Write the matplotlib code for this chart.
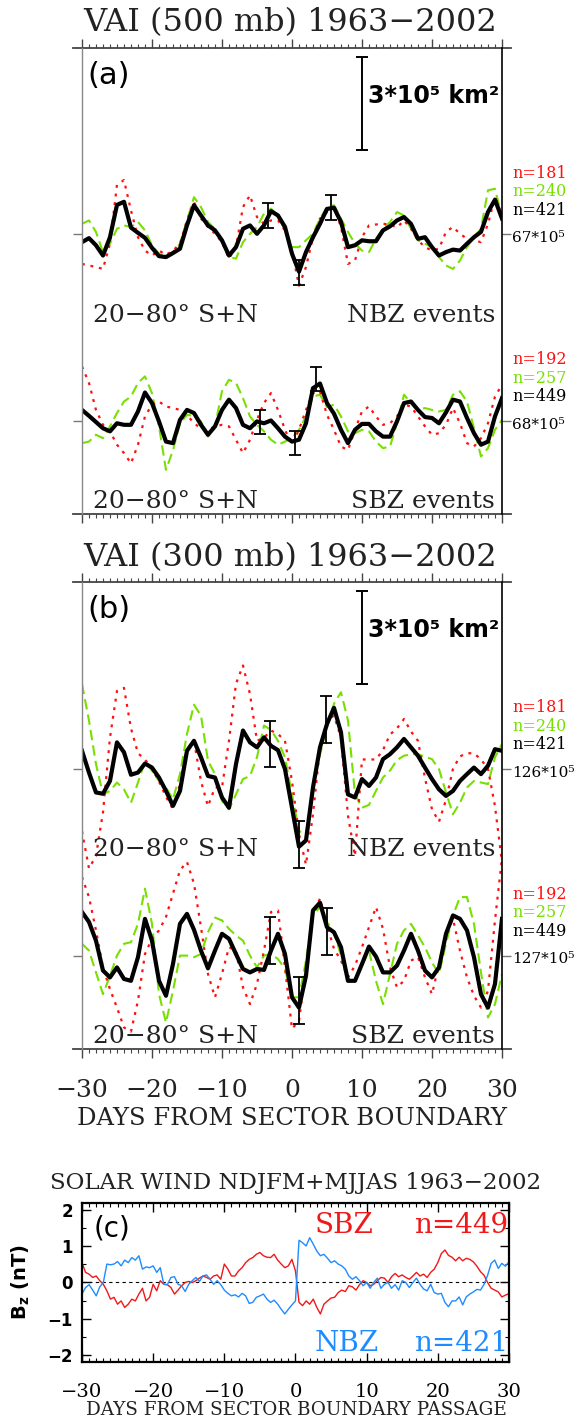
import numpy as np
import matplotlib.pyplot as plt
from matplotlib.ticker import MultipleLocator
from matplotlib.lines import Line2D

# ---- data (anomalies in units of 1e5 km^2, one value per day) ----
days = np.arange(-30, 31)

a_nbz_black = [-0.25, -0.12, -0.35, -0.68, -0.09, 0.95, 1.05, 0.22, 0.05, -0.11,
               -0.43, -0.70, -0.73, -0.60, -0.46, 0.29, 0.94, 0.61, 0.29, 0.13,
               -0.19, -0.68, -0.41, 0.18, 0.29, 0.02, 0.29, 0.75, 0.61, 0.24,
               -0.62, -1.20, -0.57, -0.09, 0.34, 0.82, 0.86, 0.40, -0.41, -0.35,
               -0.19, -0.22, -0.22, 0.13, 0.26, 0.45, 0.56, 0.34, -0.14, -0.09,
               -0.41, -0.68, -0.57, -0.49, -0.52, -0.30, -0.09, 0.08, 0.72, 1.12, 0.51]
a_nbz_red = [-0.95, -1.0, -1.05, -1.11, -0.3, 1.6, 1.75, 0.77, -0.09, -0.52,
             -0.68, -0.52, -0.66, -0.52, -0.30, 0.45, 1.04, 0.51, 0.24, 0.02,
             -0.25, -0.78, -0.41, 0.88, 1.26, 0.56, 0.34, 0.45, 0.45, 0.13,
             -0.52, -1.65, -1.05, -0.09, 0.51, 0.72, 0.88, 0.24, -0.95, -0.84,
             -0.09, 0.29, 0.32, 0.34, 0.32, 0.22, 0.45, 0.18, -0.19, -0.41,
             -0.52, -0.46, 0.08, 0.24, 0.02, -0.14, -0.19, -0.25, 0.34, 1.2, 0.61]
a_nbz_green = [0.34, 0.45, 0.08, -0.57, -0.30, 0.18, 0.29, 0.24, 0.40, 0.13,
               -0.35, -0.62, -0.73, -0.57, -0.30, 0.45, 1.2, 0.88, 0.40, 0.18,
               -0.25, -0.73, -0.78, -0.25, 0.02, 0.24, 0.67, 0.83, 0.61, 0.13,
               -0.41, -0.41, -0.19, 0.02, 0.51, 0.88, 0.94, 0.51, 0.08, -0.30,
               -0.52, -0.57, -0.14, 0.18, 0.40, 0.72, 0.61, 0.18, -0.19, -0.30,
               -0.41, -0.73, -1.0, -1.11, -0.84, -0.41, -0.09, 0.18, 1.42, 1.47, 0.56]

a_sbz_black = [0.35, 0.16, -0.04, -0.24, -0.34, -0.08, -0.13, -0.13, 0.30, 0.91,
               0.57, -0.02, -0.67, -0.72, 0.03, 0.35, 0.25, -0.13, -0.45, -0.18,
               0.35, 0.68, 0.41, -0.13, -0.24, -0.02, -0.08, 0.01, -0.24, -0.51,
               -0.67, -0.61, -0.08, 1.05, 1.20, 0.57, 0.23, -0.29, -0.72, -0.29,
               -0.10, -0.10, -0.34, -0.51, -0.51, -0.02, 0.57, 0.62, 0.35, 0.12,
               0.09, -0.08, 0.27, 0.68, 0.62, 0.09, -0.40, -0.77, -0.67, 0.14, 0.73]
a_sbz_red = [1.75, 1.22, 0.35, -0.13, -0.34, -0.77, -1.04, -1.37, -0.77, 0.14,
             0.52, 0.62, 0.46, 0.41, 0.35, 0.19, -0.08, -0.24, -0.29, -0.18,
             -0.13, -0.18, -0.61, -1.04, -0.61, 0.03, 0.57, 0.89, 0.35, -0.29,
             -0.77, -0.29, 0.35, 0.89, 0.95, 0.19, -0.29, -0.83, -0.94, -0.29,
             0.30, 0.46, 0.14, -0.13, -0.08, 0.14, 0.52, 0.46, 0.14, -0.18,
             -0.45, -0.40, -0.13, 0.41, -0.08, -0.72, -0.83, -0.56, -0.08, 0.78, 1.16]
a_sbz_green = [-0.72, -0.67, -0.45, -0.56, -0.18, 0.25, 0.62, 0.78, 1.22, 1.43,
               0.89, -0.18, -1.58, -0.95, -0.08, 0.19, 0.16, -0.02, -0.51, -0.18,
               0.95, 1.32, 1.22, 0.73, 0.14, -0.13, -0.34, -0.61, -0.77, -0.67,
               -0.56, -0.29, 0.14, 0.78, 0.84, 0.44, 0.52, 0.14, -0.34, -0.40,
               -0.29, -0.34, -0.67, -0.88, -0.83, -0.08, 0.84, 0.57, 0.35, 0.41,
               0.35, 0.30, 0.35, 0.84, 0.95, 0.62, -0.24, -1.15, -0.88, -0.29, 0.03]

b_nbz_black = [0.58, -0.12, -0.76, -0.80, -0.39, 0.85, 0.53, -0.19, -0.12, 0.17,
               0.04, -0.28, -0.71, -1.19, -0.71, 0.58, 0.90, 0.37, -0.23, -0.28,
               -0.92, -1.25, 0.15, 1.23, 0.85, 0.69, 1.01, 0.74, 0.60, -0.01,
               -1.25, -2.50, -2.30, -0.60, 0.69, 1.44, 1.96, 1.17, -0.82, -0.92,
               -0.33, -0.55, -0.28, 0.31, 0.47, 0.69, 0.96, 0.69, 0.42, 0.04,
               -0.33, -0.66, -0.87, -0.71, -0.39, -0.17, 0.04, -0.17, 0.10, 0.63, 0.58]
b_nbz_red = [-2.0, -3.2, -2.8, -1.4, 1.0, 2.5, 2.6, 1.3, 0.5, 0.3,
             0.0, -0.4, -0.9, -1.3, -0.5, 0.6, 0.9, -0.4, -1.2, -0.6,
             -0.6, 0.9, 2.73, 3.32, 2.4, 0.9, 1.0, 1.23, 1.12, 0.9,
             -0.39, -2.1, -3.08, -1.46, 0.69, 1.55, 1.71, 1.0, -1.5, -2.8,
             0.3, 0.3, 0.3, 0.6, 1.1, 1.3, 1.6, 1.2, 0.9, -0.3,
             -1.3, -1.7, -1.0, 0.0, 0.4, 0.5, 0.5, 0.3, 0.0, -1.2, -3.0]
b_nbz_green = [2.73, 1.55, 0.15, -0.82, -0.71, -0.44, -0.66, -1.09, -0.44, 0.24,
               -0.06, -0.39, -0.60, -0.98, -0.17, 1.12, 2.06, 1.71, 0.26, -0.17,
               -1.03, -1.30, -0.82, -0.33, -0.23, 0.37, 1.39, 1.25, 0.90, 0.37,
               -0.82, -2.0, -2.1, -0.60, 0.47, 1.33, 2.09, 2.46, 1.55, -0.82,
               -1.25, -1.16, -0.71, -0.28, -0.06, 0.28, 0.42, 0.47, 0.47, 0.39,
               0.31, -0.01, -0.76, -1.46, -1.09, -0.60, -0.39, -0.44, -0.49, 0.37, 0.80]

b_sbz_black = [1.40, 1.08, 0.48, -0.48, -0.70, -0.38, -0.75, -0.81, -0.05, 1.18,
               0.48, -0.81, -1.29, -0.27, 1.02, 1.34, 0.83, 0.16, -0.41, 0.16,
               0.70, 0.54, 0.05, -0.43, -0.54, -0.43, -0.46, 0.16, 0.70, 0.05,
               -1.34, -1.67, -0.65, 1.45, 1.70, 0.91, 0.75, 0.27, -0.81, -0.81,
               -0.27, 0.29, -0.03, -0.54, -0.54, -0.32, 0.16, 0.70, 0.16, -0.48,
               -0.70, -0.38, 0.70, 1.29, 1.18, 0.81, -0.05, -1.24, -1.67, -0.91, 1.18]
b_sbz_red = [2.53, 1.88, 0.81, -0.38, -1.08, -1.67, -2.31, -2.44, -1.45, 0.05,
             0.54, 0.81, 1.24, 1.99, 2.74, 3.01, 2.31, 0.91, -0.59, -1.34,
             -0.59, 0.27, 0.16, -1.02, -1.56, -0.91, 0.16, 1.40, 1.45, -0.38,
             -2.35, -2.10, -0.38, 1.34, 1.83, 0.97, 0.22, -0.16, -0.70, -0.32,
             0.27, 0.91, 1.56, 0.86, -0.38, -1.02, -0.81, -0.16, -0.05, -0.70,
             -1.24, -0.27, 0.70, 1.18, 0.16, -0.70, -1.29, -1.67, -1.13, 1.13, 3.12]
b_sbz_green = [0.38, 0.16, -0.54, -1.24, -0.65, 0.0, 0.38, 0.43, 1.02, 2.15,
               1.02, -1.24, -2.15, -1.13, 0.0, 0.0, -0.05, 0.05, 0.75, 1.22,
               1.13, 0.86, 0.65, 0.48, 0.0, -0.38, 0.0, 0.05, -0.11, -0.43,
               -1.34, -1.34, -0.16, 1.29, 1.56, 1.08, 0.75, 0.0, -0.81, -0.81,
               -0.32, 0.16, -0.81, -1.56, -0.59, 0.38, 0.81, 1.02, 0.65, 0.27,
               -0.22, -0.59, 0.38, 1.29, 1.88, 1.88, 1.02, -0.54, -1.99, -1.56, -0.59]

# error bars: day, centre, half length
a_nbz_err = ([-3.4, 1.0, 5.6], [0.61, -1.23, 0.87], 0.40)
a_sbz_err = ([-4.5, 0.5, 3.4], [-0.04, -0.72, 1.34], 0.38)
b_nbz_err = ([-3.1, 1.0, 4.9], [0.80, -2.43, 1.59], 0.75)
b_sbz_err = ([-3.1, 1.0, 5.0], [0.48, -1.45, 0.78], 0.75)

n_nbz = ['n=181', 'n=240', 'n=421']
n_sbz = ['n=192', 'n=257', 'n=449']
a_refs = ['67*10⁵', '68*10⁵']
b_refs = ['126*10⁵', '127*10⁵']

# solar wind Bz (nT), every half day
sw_days = np.arange(-30, 30.01, 0.5)
sw_sbz = [0.55, 0.28, 0.23, 0.14, 0.18, 0.05, -0.05, -0.23, -0.46, -0.41,
          -0.60, -0.51, -0.69, -0.60, -0.46, -0.51, -0.32, -0.16, -0.51, -0.41,
          -0.05, -0.23, 0.05, -0.05, -0.06, -0.14, -0.32, -0.21, -0.09, 0.0,
          0.03, 0.0, 0.05, 0.12, 0.18, 0.14, 0.09, 0.18, 0.21, 0.09,
          0.51, 0.37, 0.18, 0.18, 0.32, 0.41, 0.55, 0.64, 0.69, 0.78,
          0.83, 0.74, 0.70, 0.69, 0.78, 0.62, 0.51, 0.41, 0.46, 0.64,
          0.32, -0.55, -0.64, -0.51, -0.60, -0.46, -0.69, -0.87, -0.60, -0.51,
          -0.43, -0.41, -0.28, -0.21, -0.25, -0.09, -0.12, -0.21, -0.06, 0.05,
          0.0, -0.09, -0.05, 0.05, 0.14, 0.12, 0.0, 0.16, 0.25, 0.16,
          0.21, 0.14, 0.09, 0.18, 0.28, 0.18, 0.23, 0.14, 0.28, 0.37,
          0.55, 0.80, 0.90, 0.75, 0.70, 0.60, 0.70, 0.60, 0.67, 0.64,
          0.57, 0.45, 0.30, 0.20, 0.0, -0.16, -0.21, -0.26, -0.40, -0.35,
          -0.31]
sw_nbz = [-0.32, -0.14, -0.06, -0.21, -0.37, -0.12, 0.0, 0.51, 0.49, 0.51,
          0.58, 0.46, 0.62, 0.55, 0.69, 0.62, 0.74, 0.37, 0.43, 0.41,
          0.46, 0.28, 0.41, -0.05, -0.06, 0.14, 0.16, -0.05, -0.09, -0.25,
          -0.05, 0.05, 0.14, 0.03, 0.18, 0.21, 0.09, -0.05, 0.05, -0.06,
          -0.21, -0.30, -0.37, -0.34, -0.40, -0.30, -0.37, -0.58, -0.55, -0.41,
          -0.37, -0.32, -0.46, -0.55, -0.49, -0.60, -0.74, -0.87, -0.74, -0.62,
          -0.51, 1.17, 1.10, 1.01, 1.24, 1.06, 0.87, 0.74, 0.78, 0.67,
          0.55, 0.60, 0.51, 0.46, 0.37, 0.18, 0.09, 0.16, 0.05, -0.09,
          0.0, -0.16, 0.0, 0.12, -0.16, -0.05, 0.0, -0.16, -0.06, -0.21,
          0.05, 0.0, -0.14, 0.0, 0.12, -0.05, -0.18, -0.23, -0.05, -0.28,
          -0.32, -0.30, -0.55, -0.67, -0.51, -0.51, -0.40, -0.62, -0.40, -0.32,
          -0.26, -0.19, -0.21, -0.05, 0.20, 0.53, 0.62, 0.39, 0.53, 0.45,
          0.57]

RED = '#ff1010'
GREEN = '#78e000'
SERIF = 'DejaVu Serif'
SANS = 'DejaVu Sans'
NBZ_BASE = 9.0
SBZ_BASE = 3.0

fig = plt.figure(figsize=(5.81, 14.21), dpi=100)


def vai_panel(rect, groups, errs, refs, letter, show_labels):
    ax = fig.add_axes(rect)
    for base, (blk, red, grn), err in zip([NBZ_BASE, SBZ_BASE], groups, errs):
        ax.plot(days, base + np.array(grn), color=GREEN, lw=1.5, ls=(0, (5, 2.5)))
        ax.plot(days, base + np.array(red), color=RED, lw=1.6, ls=(0, (1.3, 2.6)))
        ax.plot(days, base + np.array(blk), color='black', lw=3.0,
                solid_joinstyle='round')
        ex, ey, eh = err
        ax.errorbar(ex, base + np.array(ey), yerr=eh, fmt='none', ecolor='black',
                    elinewidth=1.3, capsize=4.5, capthick=1.3)
    # scale bar
    ax.errorbar([10], [13.22], yerr=1.5, fmt='none', ecolor='black',
                elinewidth=1.4, capsize=4.5, capthick=1.4)
    ax.text(10.8, 13.45, '3*10⁵ km²', family=SANS, fontweight='bold',
            fontsize=17, ha='left', va='center')
    ax.text(-29.3, 14.12, letter, family=SANS, fontsize=22, ha='left', va='center')
    for base, ev in [(NBZ_BASE, 'NBZ events'), (SBZ_BASE, 'SBZ events')]:
        ax.text(-28.4, base - 2.6, '20−80° S+N', family=SERIF, fontsize=18,
                ha='left', va='center', color='#222222')
        ax.text(29.0, base - 2.6, ev, family=SERIF, fontsize=18,
                ha='right', va='center', color='#222222')
    # n labels and reference values to the right
    for base, labs, ref in [(NBZ_BASE, n_nbz, refs[0]), (SBZ_BASE, n_sbz, refs[1])]:
        for lab, col, dy in zip(labs, [RED, GREEN, 'black'], [1.97, 1.37, 0.77]):
            ax.text(1.024, base + dy, lab, transform=ax.get_yaxis_transform(),
                    family=SERIF, fontsize=11.5, color=col, ha='left', va='center')
        ax.text(1.024, base - 0.12, ref, transform=ax.get_yaxis_transform(),
                family=SERIF, fontsize=11, color='black', ha='left', va='center')

    ax.set_xlim(-30, 30)
    ax.set_ylim(0, 15)
    ax.spines['top'].set_visible(False)
    ax.spines['bottom'].set_visible(False)
    ax.spines['left'].set_color('#888888')
    ax.spines['left'].set_linewidth(1.0)
    ax.spines['right'].set_color('black')
    ax.spines['right'].set_linewidth(1.2)
    for yy in (0, 1):
        ax.add_artist(Line2D([-0.0214, 1.0214], [yy, yy], transform=ax.transAxes,
                             color='#444444', lw=1.3, clip_on=False))
    ax.xaxis.set_major_locator(MultipleLocator(10))
    ax.xaxis.set_minor_locator(MultipleLocator(1))
    ax.tick_params(axis='x', which='major', direction='out', length=6.5, width=1.0,
                   color='#444444', top=True, bottom=True,
                   labelbottom=show_labels, labeltop=False, pad=15,
                   labelsize=18)
    ax.tick_params(axis='x', which='minor', direction='out', length=3.0, width=0.8,
                   color='#444444', top=True, bottom=True)
    ax.set_yticks([SBZ_BASE, NBZ_BASE])
    ax.tick_params(axis='y', direction='out', length=6.5, width=1.0, color='#777777',
                   left=True, right=True, labelleft=False, labelright=False)
    for lab in ax.get_xticklabels():
        lab.set_family(SERIF)
        lab.set_color('#222222')
    return ax


ax_a = vai_panel([0.1411, 0.6383, 0.7229, 0.3279],
                 [(a_nbz_black, a_nbz_red, a_nbz_green),
                  (a_sbz_black, a_sbz_red, a_sbz_green)],
                 [a_nbz_err, a_sbz_err], a_refs, '(a)', False)
ax_b = vai_panel([0.1411, 0.2618, 0.7229, 0.3286],
                 [(b_nbz_black, b_nbz_red, b_nbz_green),
                  (b_sbz_black, b_sbz_red, b_sbz_green)],
                 [b_nbz_err, b_sbz_err], b_refs, '(b)', True)

fig.text(0.5, 0.9838, 'VAI (500 mb) 1963−2002', family=SERIF, fontsize=23,
         ha='center', va='center', color='#222222')
fig.text(0.5, 0.6080, 'VAI (300 mb) 1963−2002', family=SERIF, fontsize=23,
         ha='center', va='center', color='#222222')
fig.text(0.502, 0.2132, 'DAYS FROM SECTOR BOUNDARY', family=SERIF, fontsize=17.5,
         ha='center', va='center', color='#222222')

# ---- panel (c): solar wind ----
SW_RED = '#f01818'
SW_BLUE = '#1e8cff'
ax_c = fig.add_axes([0.1411, 0.04152, 0.7349, 0.1119])
ax_c.axhline(0, color='black', lw=0.8, ls=(0, (3, 3)))
ax_c.plot(sw_days, sw_sbz, color=SW_RED, lw=1.0)
ax_c.plot(sw_days, sw_nbz, color=SW_BLUE, lw=1.0)
ax_c.set_xlim(-30, 30)
ax_c.set_ylim(-2.2, 2.2)
for sp in ax_c.spines.values():
    sp.set_linewidth(1.6)
ax_c.xaxis.set_major_locator(MultipleLocator(10))
ax_c.xaxis.set_minor_locator(MultipleLocator(1))
ax_c.yaxis.set_major_locator(MultipleLocator(1))
ax_c.yaxis.set_minor_locator(MultipleLocator(0.5))
ax_c.tick_params(which='major', direction='in', length=6.5, width=1.0,
                 top=True, right=True)
ax_c.tick_params(which='minor', direction='in', length=3.0, width=0.8,
                 top=True, right=True)
ax_c.tick_params(axis='x', pad=15, labelsize=14)
ax_c.tick_params(axis='y', pad=6.5, labelsize=12)
for lab in ax_c.get_xticklabels():
    lab.set_family(SERIF)
for lab in ax_c.get_yticklabels():
    lab.set_family(SANS)
    lab.set_fontweight('bold')

ax_c.text(-28.3, 1.5, '(c)', family=SANS, fontsize=20, ha='left', va='center')
ax_c.text(2.7, 1.57, 'SBZ', family=SERIF, fontsize=20, color=SW_RED,
          ha='left', va='center')
ax_c.text(29.9, 1.57, 'n=449', family=SERIF, fontsize=20, color=SW_RED,
          ha='right', va='center')
ax_c.text(2.7, -1.69, 'NBZ', family=SERIF, fontsize=20, color=SW_BLUE,
          ha='left', va='center')
ax_c.text(29.9, -1.69, 'n=421', family=SERIF, fontsize=20, color=SW_BLUE,
          ha='right', va='center')

fig.text(0.5095, 0.1675, 'SOLAR WIND NDJFM+MJJAS 1963−2002', family=SERIF,
         fontsize=16.5, ha='center', va='center', color='#222222')
fig.text(0.510, 0.0077, 'DAYS FROM SECTOR BOUNDARY PASSAGE', family=SERIF,
         fontsize=13.2, ha='center', va='center', color='#222222')
fig.text(0.036, 0.0978, r'$\mathbf{B_z}$ (nT)', family=SANS, fontweight='bold',
         fontsize=14, rotation=90, ha='center', va='center')

fig.savefig('out.png', dpi=100)
